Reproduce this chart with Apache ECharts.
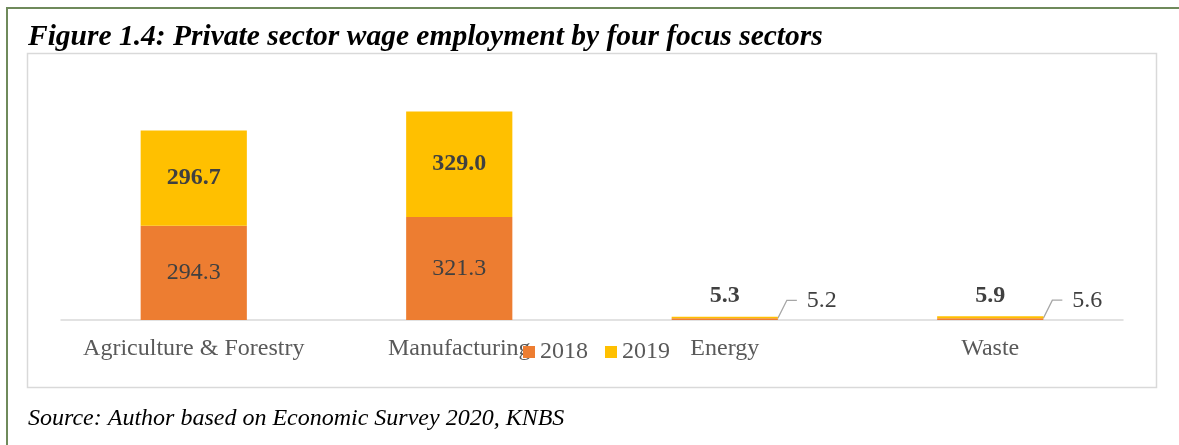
<!DOCTYPE html>
<html>
<head>
<meta charset="utf-8">
<script src="https://cdn.jsdelivr.net/npm/echarts@6/dist/echarts.min.js"></script>
<style>
  html, body { margin: 0; padding: 0; background: #ffffff; }
  #chart { width: 1179px; height: 445px; }
</style>
</head>
<body>
<div id="chart"></div>
<script>
// Private sector wage employment ('000), by sector and year
const categories = ['Agriculture & Forestry', 'Manufacturing', 'Energy', 'Waste'];
const values2018 = [294.3, 321.3, 5.2, 5.6];
const values2019 = [296.7, 329.0, 5.3, 5.9];
const seriesNames = ['2018', '2019'];

const titleText = 'Figure 1.4: Private sector wage employment by four focus sectors';
const sourceText = 'Source: Author based on Economic Survey 2020, KNBS';

const SERIF = "'Liberation Serif', 'Times New Roman', serif";
const ORANGE = '#ED7D31';
const GOLD = '#FFC000';
const SMALL_LIMIT = 50; // bars too short to hold their label inside

const chart = echarts.init(document.getElementById('chart'), null, { renderer: 'canvas' });

function fmt(v) { return v.toFixed(1); }

// 2018: label inside tall bars; short bars get a callout to the right
const data2018 = values2018.map(v => {
  if (v >= SMALL_LIMIT) return { value: v };
  return {
    value: v,
    label: {
      position: 'right',
      formatter: p => '{gap|}' + fmt(p.value),
      rich: { gap: { width: 10 } }
    },
    labelLine: { show: true, length2: 10, lineStyle: { color: '#a6a6a6', width: 1.3 } }
  };
});
// 2019: bold label inside tall bars, above short ones
const data2019 = values2019.map(v => {
  if (v >= SMALL_LIMIT) return { value: v };
  return { value: v, label: { position: 'top', distance: 9 } };
});

const option = {
  backgroundColor: '#ffffff',
  animation: false,
  color: [ORANGE, GOLD],
  grid: { left: 61, right: 56, top: 95.6, bottom: 125, containLabel: false },
  legend: {
    data: seriesNames,
    left: 518,
    top: 335,
    icon: 'rect',
    itemWidth: 12,
    itemHeight: 12,
    itemGap: 17,
    textStyle: { fontFamily: SERIF, fontSize: 24, color: '#595959' }
  },
  xAxis: {
    type: 'category',
    data: categories,
    axisLine: { show: true, lineStyle: { color: '#d9d9d9', width: 1.5 } },
    axisTick: { show: false },
    axisLabel: { fontFamily: SERIF, fontSize: 24, color: '#595959', margin: 17, interval: 0 }
  },
  yAxis: {
    type: 'value',
    min: 0,
    max: 700,
    show: false,
    splitLine: { show: false }
  },
  series: [
    {
      name: seriesNames[0],
      type: 'bar',
      stack: 'total',
      barWidth: '40%',
      data: data2018,
      itemStyle: { color: ORANGE },
      label: {
        show: true,
        position: 'inside',
        fontFamily: SERIF,
        fontSize: 24,
        color: '#404040',
        formatter: p => fmt(p.value)
      },
      labelLayout: function (p) {
        if (values2018[p.dataIndex] >= SMALL_LIMIT) return {};
        return {
          x: p.rect.x + p.rect.width + 19,
          y: p.rect.y - 18,
          align: 'left',
          verticalAlign: 'middle'
        };
      }
    },
    {
      name: seriesNames[1],
      type: 'bar',
      stack: 'total',
      barWidth: '40%',
      data: data2019,
      itemStyle: { color: GOLD },
      label: {
        show: true,
        position: 'inside',
        fontFamily: SERIF,
        fontSize: 24,
        fontWeight: 'bold',
        color: '#404040',
        formatter: p => fmt(p.value)
      }
    }
  ],
  graphic: [
    // outer figure border (top and left edges)
    { type: 'line', shape: { x1: 6, y1: 8, x2: 1179, y2: 8 }, style: { stroke: '#6f8a5b', lineWidth: 2 }, silent: true },
    { type: 'line', shape: { x1: 7, y1: 8, x2: 7, y2: 445 }, style: { stroke: '#6f8a5b', lineWidth: 2 }, silent: true },
    // chart area frame
    { type: 'rect', shape: { x: 27.5, y: 53.5, width: 1129, height: 334 }, style: { fill: null, stroke: '#d9d9d9', lineWidth: 1.5 }, silent: true, z: -1 },
    {
      type: 'text', left: 28, top: 22, silent: true,
      style: { text: titleText, fontFamily: SERIF, fontSize: 29.5, fontWeight: 'bold', fontStyle: 'italic', fill: '#000000' }
    },
    {
      type: 'text', left: 28, top: 407, silent: true,
      style: { text: sourceText, fontFamily: SERIF, fontSize: 24, fontStyle: 'italic', fill: '#000000' }
    }
  ]
};

chart.setOption(option);
</script>
</body>
</html>
